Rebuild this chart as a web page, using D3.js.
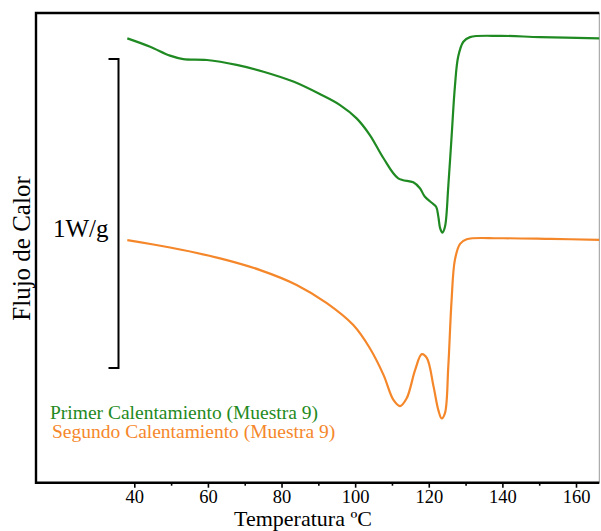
<!DOCTYPE html>
<html lang="es">
<head>
    <meta charset="UTF-8">
    <title>DSC - Muestra 9</title>
    <script src="https://d3js.org/d3.v7.min.js"></script>
    <style>
        * { margin: 0; padding: 0; }
        body { background: #fff; overflow: hidden; }
        text { font-family: 'Liberation Serif', 'Times New Roman', serif; fill: #000; }
    </style>
</head>
<body>
    <div id="chart"></div>
    <script>
        // temperatura (ºC) y flujo de calor (W/g, offset arbitrario)
        const primerT = [38.1, 44.3, 49.7, 53.3, 59.7, 67.8, 75.1, 83.2, 90.5, 95.9, 100.4, 104.0, 107.7, 111.7,
            115.8, 117.6, 118.9, 120.8, 122.0, 122.6, 123.1, 123.7, 124.4, 125.3, 126.2, 127.1, 128.0, 129.4,
            131.2, 139.4, 150.2, 166.3];
        const primerQ = [1.438, 1.411, 1.382, 1.371, 1.368, 1.352, 1.330, 1.298, 1.257, 1.222, 1.179, 1.125, 1.050, 0.985,
            0.972, 0.953, 0.926, 0.906, 0.893, 0.861, 0.823, 0.809, 0.828, 0.958, 1.120, 1.282, 1.379, 1.427,
            1.442, 1.446, 1.442, 1.438];

        const segundoT = [38.1, 49.7, 63.3, 74.2, 84.1, 92.3, 99.5, 104.0, 107.7, 110.4, 112.2, 114.0, 116.3,
            118.1, 119.5, 121.3, 122.6, 123.5, 124.4, 125.3, 126.2, 127.1, 128.5, 130.3, 139.4, 153.0, 166.3];
        const segundoQ = [0.785, 0.761, 0.726, 0.688, 0.640, 0.581, 0.510, 0.435, 0.349, 0.268, 0.248, 0.273, 0.365,
            0.416, 0.403, 0.311, 0.235, 0.208, 0.225, 0.375, 0.591, 0.721, 0.773, 0.788, 0.791, 0.789, 0.786];

        const majorTicks = [40, 60, 80, 100, 120, 140, 160];
        const minorTicks = [50, 70, 90, 110, 130, 150];
        const escala = [0.371, 1.371]; // barra de 1 W/g

        const series = [
            { name: 'Primer Calentamiento (Muestra 9)', color: '#1f8a22', t: primerT, q: primerQ },
            { name: 'Segundo Calentamiento (Muestra 9)', color: '#f5872b', t: segundoT, q: segundoQ }
        ];

        const width = 601, height = 531;
        const frame = { left: 36, top: 13, right: 599.3, bottom: 482.7 };

        const x = d3.scaleLinear().domain([40, 160]).range([134.3, 576]);
        const y = d3.scaleLinear().domain([0, 1.52]).range([frame.bottom, frame.top]);

        const svg = d3.select('#chart').append('svg')
            .attr('width', width)
            .attr('height', height);

        // ejes / marco
        const xAxis = svg.append('g')
            .attr('transform', `translate(0,${frame.bottom})`)
            .call(d3.axisBottom(x).tickValues(majorTicks).tickSize(5).tickSizeOuter(0).tickPadding(2));
        xAxis.select('.domain').remove();
        xAxis.selectAll('line').attr('stroke', '#000').attr('stroke-width', 1.6);
        xAxis.selectAll('text').attr('font-size', 18.5).attr('font-family', "'Liberation Serif', serif");

        const xMinor = svg.append('g')
            .attr('transform', `translate(0,${frame.bottom})`)
            .call(d3.axisBottom(x).tickValues(minorTicks).tickSize(3).tickFormat(''));
        xMinor.select('.domain').remove();
        xMinor.selectAll('line').attr('stroke', '#000').attr('stroke-width', 1.6);

        svg.append('line')
            .attr('x1', frame.right).attr('x2', frame.right)
            .attr('y1', frame.top).attr('y2', frame.bottom)
            .attr('stroke', '#999').attr('stroke-width', 1);
        svg.append('path')
            .attr('d', `M${frame.right},${frame.top}H${frame.left}V${frame.bottom}H${frame.right}`)
            .attr('fill', 'none')
            .attr('stroke', '#000')
            .attr('stroke-width', 2.4);

        // curvas
        const line = d3.line()
            .x(d => x(d[0]))
            .y(d => y(d[1]))
            .curve(d3.curveCatmullRom.alpha(0.5));

        series.forEach(s => {
            svg.append('path')
                .datum(s.t.map((t, i) => [t, s.q[i]]))
                .attr('fill', 'none')
                .attr('stroke', s.color)
                .attr('stroke-width', 2.2)
                .attr('stroke-linejoin', 'round')
                .attr('d', line);
        });

        // barra de escala
        svg.append('path')
            .attr('d', `M108.5,${y(escala[1])}H118.5V${y(escala[0])}H108.5`)
            .attr('fill', 'none')
            .attr('stroke', '#000')
            .attr('stroke-width', 2);
        svg.append('text')
            .attr('x', 53)
            .attr('y', 237)
            .attr('font-size', 25)
            .text('1W/g');

        // leyenda
        svg.selectAll('.legend')
            .data(series)
            .join('text')
            .attr('class', 'legend')
            .attr('x', (d, i) => i === 0 ? 50 : 52)
            .attr('y', (d, i) => 419 + i * 19.3)
            .attr('font-size', 19.5)
            .style('fill', d => d.color)
            .text(d => d.name);

        // títulos
        svg.append('text')
            .attr('x', 303)
            .attr('y', 526)
            .attr('text-anchor', 'middle')
            .attr('font-size', 22)
            .text('Temperatura ºC');

        svg.append('text')
            .attr('transform', 'translate(29.5,248.5) rotate(-90)')
            .attr('text-anchor', 'middle')
            .attr('font-size', 25)
            .text('Flujo de Calor');
    </script>
</body>
</html>
